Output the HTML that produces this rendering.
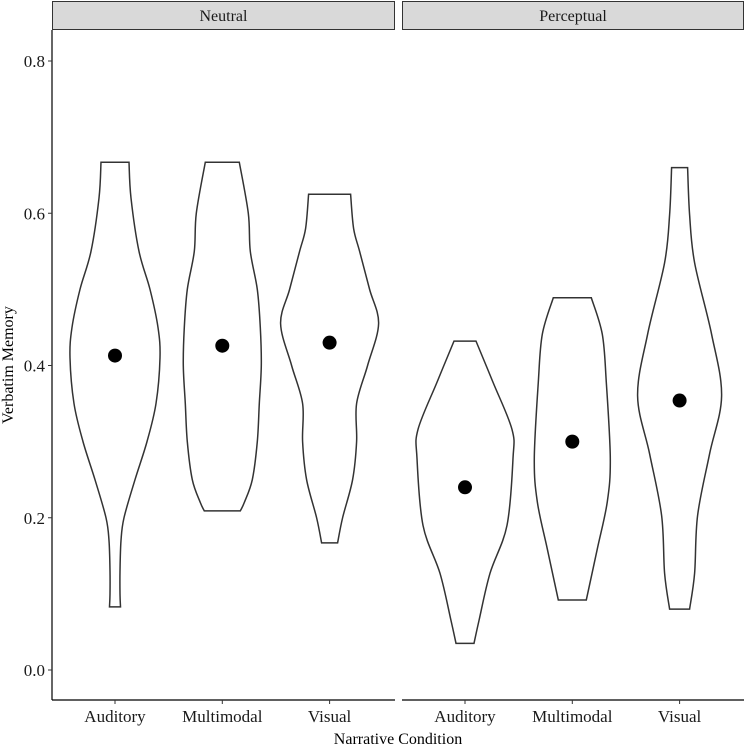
<!DOCTYPE html>
<html><head><meta charset="utf-8"><style>
html,body{margin:0;padding:0;background:#fff;}
svg{display:block;font-family:"Liberation Serif",serif;}
</style></head><body>
<svg id="chart" width="744" height="749" viewBox="0 0 744 749"></svg>
<script>
const panels = ["Neutral", "Perceptual"];
const categories = ["Auditory", "Multimodal", "Visual"];
const means = [[0.413, 0.426, 0.430], [0.240, 0.300, 0.354]];
const yTicks = [0.0, 0.2, 0.4, 0.6, 0.8];
const yTickLabels = ["0.0", "0.2", "0.4", "0.6", "0.8"];
// violin profiles: [value, relative density]
const violinNA = [[0.667,1.4],[0.62,1.6],[0.55,2.4],[0.5,3.5],[0.45,4.3],[0.41,4.5],[0.35,4.1],[0.3,3.2],[0.25,2.0],[0.2,0.9],[0.17,0.6],[0.13,0.5],[0.1,0.5],[0.083,0.55]];
const violinNM = [[0.667,1.7],[0.6,2.6],[0.55,2.8],[0.5,3.5],[0.45,3.8],[0.4,3.9],[0.35,3.7],[0.3,3.5],[0.25,3.0],[0.22,2.2],[0.209,1.8]];
const violinNV = [[0.625,2.1],[0.58,2.4],[0.55,3.0],[0.5,4.0],[0.455,4.9],[0.4,3.8],[0.35,2.7],[0.3,2.7],[0.25,2.3],[0.2,1.3],[0.167,0.8]];
const violinPA = [[0.432,1.1],[0.378,2.8],[0.316,4.7],[0.278,4.8],[0.19,4.2],[0.127,2.5],[0.065,1.4],[0.035,0.9]];
const violinPM = [[0.489,1.9],[0.441,3.0],[0.378,3.4],[0.278,3.8],[0.221,3.5],[0.159,2.5],[0.092,1.4]];
const violinPV = [[0.66,0.8],[0.598,1.0],[0.535,1.5],[0.441,3.2],[0.36,4.2],[0.284,3.0],[0.203,1.8],[0.127,1.5],[0.08,1.0]];
const violins = [[violinNA, violinNM, violinNV], [violinPA, violinPM, violinPV]];

const NS = "http://www.w3.org/2000/svg";
const svg = document.getElementById("chart");
const panelX = [[52, 395], [402, 744]];
const plotTop = 30, plotBottom = 700;
function yScale(v){ return 670 - 761.25 * v; }
function xScale(p, i){ return panelX[p][0] + 63 + i * 107.3; }
function wScale(d){ return d * 10; }
function mk(tag, attrs){ const e = document.createElementNS(NS, tag); for (const k in attrs) e.setAttribute(k, attrs[k]); svg.appendChild(e); return e; }
function curve(pts){
  let d = "M" + pts[0][0] + "," + pts[0][1];
  for (let i = 0; i < pts.length - 1; i++){
    const p0 = pts[Math.max(0, i-1)], p1 = pts[i], p2 = pts[i+1], p3 = pts[Math.min(pts.length-1, i+2)];
    const c1x = p1[0] + (p2[0]-p0[0])/6, c1y = p1[1] + (p2[1]-p0[1])/6;
    const c2x = p2[0] - (p3[0]-p1[0])/6, c2y = p2[1] - (p3[1]-p1[1])/6;
    d += " C" + c1x + "," + c1y + " " + c2x + "," + c2y + " " + p2[0] + "," + p2[1];
  }
  return d;
}

panels.forEach((pn, p) => {
  const [x0, x1] = panelX[p];
  const strip = mk("rect", {x: x0+0.5, y: 1.5, width: x1-x0-1, height: 28, fill: "#d9d9d9", stroke: "#333", "stroke-width": 1});
  
  
  const st = mk("text", {x: (x0+x1)/2, y: 21, "text-anchor": "middle", "font-size": 16, fill: "#1a1a1a"});
  st.textContent = pn;
  
  
  const ax = mk("line", {x1: x0, x2: x1, y1: plotBottom, y2: plotBottom, stroke: "#000", "stroke-width": 1.2});
  
  
  categories.forEach((c, i) => {
    const cx = xScale(p, i);
    const prof = violins[p][i];
    const right = prof.map(q => [cx + wScale(q[1]), yScale(q[0])]);
    const left = prof.slice().reverse().map(q => [cx - wScale(q[1]), yScale(q[0])]);
    const d = curve(right) + " L" + left[0][0] + "," + left[0][1] + curve(left).replace(/^M[^C]*/, " ") + " Z";
    const v = mk("path", {d: d, fill: "#fff", stroke: "#333", "stroke-width": 1.5});
    
    
    const dot = mk("circle", {cx: cx, cy: yScale(means[p][i]), r: 7, fill: "#000"});
    
    
    const tk = mk("line", {x1: cx, x2: cx, y1: plotBottom, y2: plotBottom+4, stroke: "#333"});
    
    
    const tl = mk("text", {x: cx, y: 722, "text-anchor": "middle", "font-size": 17, fill: "#1a1a1a"});
    tl.textContent = c;
    
    
  });
});
const yax = mk("line", {x1: 52, x2: 52, y1: plotTop, y2: plotBottom, stroke: "#000", "stroke-width": 1.2});


yTicks.forEach((t, i) => {
  const y = yScale(t);
  const tk = mk("line", {x1: 48, x2: 52, y1: y, y2: y, stroke: "#333"});
  
  
  const tl = mk("text", {x: 45, y: y + 6, "text-anchor": "end", "font-size": 17, fill: "#1a1a1a"});
  tl.textContent = yTickLabels[i];
  
  
});
const yt = mk("text", {x: 0, y: 0, transform: "translate(13,365) rotate(-90)", "text-anchor": "middle", "font-size": 16, fill: "#000"});
yt.textContent = "Verbatim Memory";


const xt = mk("text", {x: 398, y: 744, "text-anchor": "middle", "font-size": 16, fill: "#000"});
xt.textContent = "Narrative Condition";


</script>
</body></html>
